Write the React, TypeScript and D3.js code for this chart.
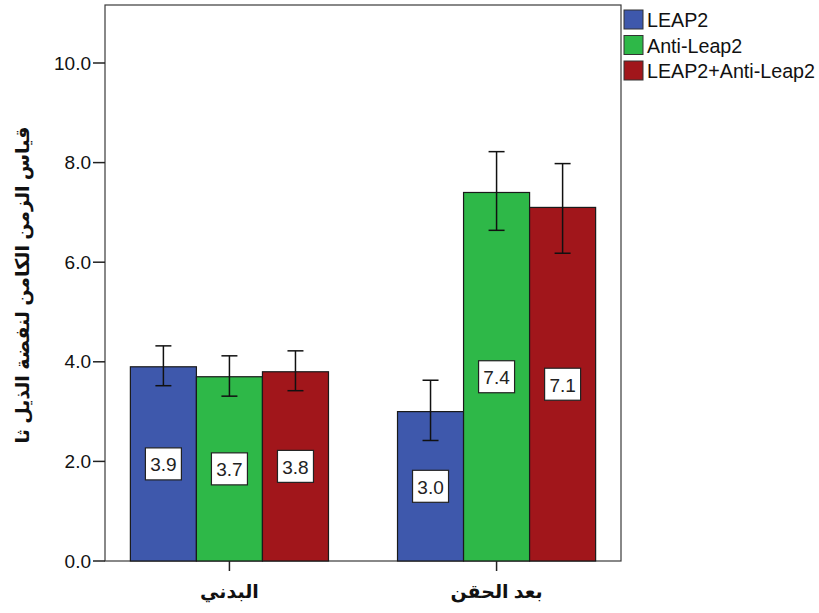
import React from "react";
import * as d3 from "d3";

const categories = ["البدني", "بعد الحقن"];
const seriesNames = ["LEAP2", "Anti-Leap2", "LEAP2+Anti-Leap2"];
const seriesColors = ["#3E58AC", "#2EB848", "#A1161B"];
const leap2Values = [3.9, 3.0];
const antiValues = [3.7, 7.4];
const comboValues = [3.8, 7.1];
const leap2Low = [3.52, 2.42];
const leap2High = [4.32, 3.63];
const antiLow = [3.31, 6.64];
const antiHigh = [4.12, 8.22];
const comboLow = [3.42, 6.18];
const comboHigh = [4.22, 7.98];
const yTicks = [0, 2, 4, 6, 8, 10];
const yTitle = "قياس الزمن الكامن لنفضة الذيل ثا";

const W = 819;
const H = 613;
const left = 105;
const right = 621;
const top = 5;
const bottom = 561;

export default function App() {
  const values = [leap2Values, antiValues, comboValues];
  const lows = [leap2Low, antiLow, comboLow];
  const highs = [leap2High, antiHigh, comboHigh];

  const y = d3.scaleLinear().domain([0, 10]).range([bottom, 63]);
  const x0 = d3
    .scaleBand<string>()
    .domain(categories)
    .range([left, right])
    .paddingInner(0.2584)
    .paddingOuter(0.095);
  const x1 = d3
    .scaleBand<string>()
    .domain(seriesNames)
    .range([0, x0.bandwidth()]);

  const font = "'Liberation Sans', Arial, 'DejaVu Sans', sans-serif";

  return (
    <svg
      width={W}
      height={H}
      style={{ position: "absolute", left: 0, top: 0, background: "#fff" }}
      fontFamily={font}
    >
      <rect x={0} y={0} width={W} height={H} fill="#fff" />
      <rect
        x={left}
        y={top}
        width={right - left}
        height={bottom - top}
        fill="#fff"
        stroke="#3a3a3a"
        strokeWidth={1.2}
      />
      {yTicks.map((t) => (
        <g key={t}>
          <line x1={93} x2={left} y1={y(t)} y2={y(t)} stroke="#222" strokeWidth={1.5} />
          <text
            x={91}
            y={y(t)}
            textAnchor="end"
            dominantBaseline="central"
            fontSize={19}
            fill="#111"
          >
            {t.toFixed(1)}
          </text>
        </g>
      ))}
      {categories.map((c, ci) => (
        <g key={c} transform={`translate(${x0(c)},0)`}>
          {seriesNames.map((s, si) => {
            const v = values[si][ci];
            const bx = x1(s)!;
            const bw = x1.bandwidth();
            return (
              <rect
                key={s}
                x={bx}
                y={y(v)}
                width={bw}
                height={y(0) - y(v)}
                fill={seriesColors[si]}
                stroke="#1a1a1a"
                strokeWidth={1.2}
              />
            );
          })}
          {seriesNames.map((s, si) => {
            const v = values[si][ci];
            const bx = x1(s)!;
            const bw = x1.bandwidth();
            const cx = bx + bw / 2;
            const lo = lows[si][ci];
            const hi = highs[si][ci];
            const ly = y(v / 2);
            return (
              <g key={s + "e"}>
                <line x1={cx} x2={cx} y1={y(hi)} y2={y(lo)} stroke="#111" strokeWidth={1.5} />
                <line x1={cx - 8} x2={cx + 8} y1={y(hi)} y2={y(hi)} stroke="#111" strokeWidth={1.5} />
                <line x1={cx - 8} x2={cx + 8} y1={y(lo)} y2={y(lo)} stroke="#111" strokeWidth={1.5} />
                <rect
                  x={cx - 18}
                  y={ly - 16}
                  width={36}
                  height={32}
                  fill="#fff"
                  stroke="#222"
                  strokeWidth={1.2}
                />
                <text
                  x={cx}
                  y={ly + 1}
                  textAnchor="middle"
                  dominantBaseline="central"
                  fontSize={19}
                  fill="#222"
                >
                  {v.toFixed(1)}
                </text>
              </g>
            );
          })}
        </g>
      ))}
      {categories.map((c) => {
        const cx = x0(c)! + x0.bandwidth() / 2;
        return (
          <g key={c + "t"}>
            <line x1={cx} x2={cx} y1={bottom} y2={bottom + 10} stroke="#222" strokeWidth={1.5} />
            <text
              x={cx}
              y={598}
              textAnchor="middle"
              fontSize={19}
              fontWeight="bold"
              fill="#111"
              direction="rtl"
            >
              {c}
            </text>
          </g>
        );
      })}
      <text
        transform={`translate(29,${(top + bottom) / 2 + 2}) rotate(-90)`}
        textAnchor="middle"
        fontSize={19}
        fontWeight="bold"
        fill="#111"
        direction="rtl"
      >
        {yTitle}
      </text>
      {seriesNames.map((s, i) => (
        <g key={s + "l"} transform={`translate(624,${10 + i * 25.5})`}>
          <rect x={0} y={0} width={19} height={19} fill={seriesColors[i]} stroke="#333" strokeWidth={1} />
          <text x={23} y={10} dominantBaseline="central" fontSize={19.7} fill="#111">
            {s}
          </text>
        </g>
      ))}
    </svg>
  );
}
